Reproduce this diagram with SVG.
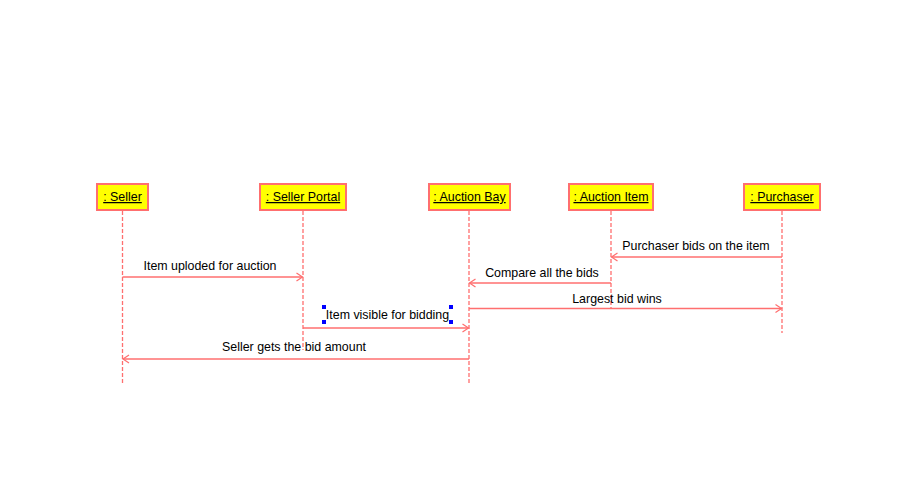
<svg xmlns="http://www.w3.org/2000/svg" width="909" height="500" viewBox="0 0 909 500">
<style>
.box{fill:#FFFF00;stroke:#FF6F6F;stroke-width:2}
.lbl{font-family:"Liberation Sans",Arial,sans-serif;font-size:12.4px;fill:#000;text-anchor:middle;text-decoration:underline}
.life{stroke:#FF6F6F;stroke-width:1.3;stroke-dasharray:4,2;fill:none}
.msg{stroke:#FF6F6F;stroke-width:1.3;fill:none}
.mt{font-family:"Liberation Sans",Arial,sans-serif;font-size:12.4px;fill:#000;text-anchor:middle}
.h{fill:#0000FF}
</style>
<defs>
<marker id="arr" markerWidth="10" markerHeight="10" refX="7" refY="5" orient="auto" markerUnits="userSpaceOnUse">
<path d="M1,1 L7,5 L1,9" fill="none" stroke="#FF6F6F" stroke-width="1.2"/>
</marker>
</defs>
<rect width="909" height="500" fill="#fff"/>
<g id="lifelines">
<line class="life" x1="122.5" y1="211" x2="122.5" y2="383"/>
<line class="life" x1="303" y1="211" x2="303" y2="350"/>
<line class="life" x1="469" y1="211" x2="469" y2="383"/>
<line class="life" x1="611" y1="211" x2="611" y2="309"/>
<line class="life" x1="782" y1="211" x2="782" y2="333"/>
</g>
<g id="seller"><rect class="box" x="97" y="184" width="51" height="26"/><text class="lbl" x="122.5" y="201">: Seller</text></g>
<g id="sellerPortal"><rect class="box" x="260" y="184" width="86" height="26"/><text class="lbl" x="303" y="201">: Seller Portal</text></g>
<g id="auctionBay"><rect class="box" x="429" y="184" width="81" height="26"/><text class="lbl" x="469.5" y="201">: Auction Bay</text></g>
<g id="auctionItem"><rect class="box" x="569" y="184" width="84" height="26"/><text class="lbl" x="611" y="201">: Auction Item</text></g>
<g id="purchaser"><rect class="box" x="744" y="184" width="76" height="26"/><text class="lbl" x="782" y="201">: Purchaser</text></g>
<g id="connectors">
<line class="msg" x1="782" y1="257" x2="611.5" y2="257" marker-end="url(#arr)"/>
<text class="mt" x="696" y="250">Purchaser bids on the item</text>
<line class="msg" x1="122.5" y1="277" x2="302.5" y2="277" marker-end="url(#arr)"/>
<text class="mt" x="210" y="270">Item uploded for auction</text>
<line class="msg" x1="611" y1="283" x2="469.5" y2="283" marker-end="url(#arr)"/>
<text class="mt" x="542" y="277">Compare all the bids</text>
<line class="msg" x1="469" y1="308.5" x2="781.5" y2="308.5" marker-end="url(#arr)"/>
<text class="mt" x="617" y="303">Largest bid wins</text>
<line class="msg" x1="303" y1="328" x2="468.5" y2="328" marker-end="url(#arr)"/>
<text class="mt" x="387.5" y="319">Item visible for bidding</text>
<line class="msg" x1="469" y1="359" x2="123" y2="359" marker-end="url(#arr)"/>
<text class="mt" x="294" y="351">Seller gets the bid amount</text>
</g>
<g id="handles">
<rect class="h" x="322" y="305" width="4" height="4"/>
<rect class="h" x="449" y="305" width="4" height="4"/>
<rect class="h" x="322" y="320" width="4" height="4"/>
<rect class="h" x="449" y="320" width="4" height="4"/>
</g>
</svg>
